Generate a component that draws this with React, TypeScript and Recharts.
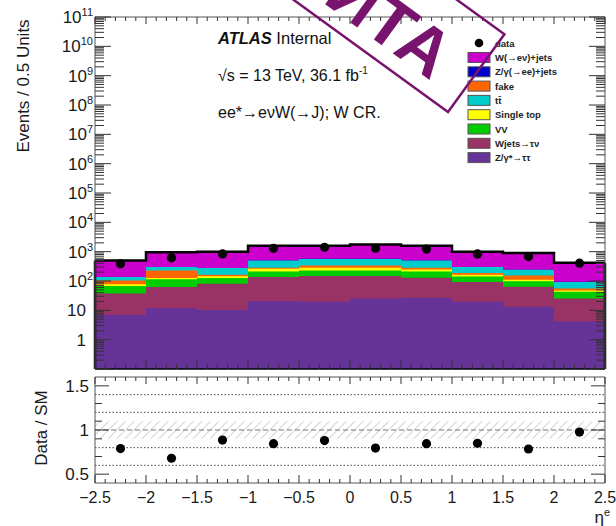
import React from "react";
import {
    ComposedChart,
    Area,
    Scatter,
    XAxis,
    YAxis,
    ReferenceLine,
} from "recharts";

const FONT = "'Liberation Sans', Arial, Helvetica, sans-serif";

// eta bins, 0.5 wide
const binEdges = [-2.5, -2.0, -1.5, -1.0, -0.5, 0.0, 0.5, 1.0, 1.5, 2.0, 2.5];
const binCenters = [-2.25, -1.75, -1.25, -0.75, -0.25, 0.25, 0.75, 1.25, 1.75, 2.25];

// backgrounds, listed bottom of the stack first
const zTauTau = [7.0, 11.7, 10.3, 20.6, 19.7, 25.4, 26.9, 19.7, 13.3, 4.2];
const wTauNu = [30.5, 51, 71, 116, 128, 123, 103, 73, 50, 21];
const diboson = [30.5, 51, 45, 74, 81, 81, 81, 51, 35, 18];
const singleTop = [9, 12, 18, 50, 53, 53, 35, 20, 13, 4];
const fakes = [28, 103, 20, 21, 55, 55, 36, 22, 44, 8];
const ttbar = [32, 69, 111, 215, 230, 230, 215, 112, 87, 38];
const zEE = [0.6, 1.2, 0.9, 1.5, 1.8, 1.7, 1.4, 1.1, 0.9, 0.5];
const wENu = [360, 657, 725, 1093, 1023, 1203, 1093, 702, 661, 322];

const observed = [385, 615, 835, 1300, 1410, 1300, 1230, 835, 680, 405];
const dataOverSM = [0.79, 0.68, 0.886, 0.845, 0.88, 0.795, 0.845, 0.85, 0.785, 0.977];
const smUncertainty = [0.1, 0.1, 0.1, 0.1, 0.1, 0.1, 0.1, 0.1, 0.1, 0.1];

const stack = [zTauTau, wTauNu, diboson, singleTop, fakes, ttbar, zEE, wENu];
const stackColors = ["#663399", "#993366", "#00cc00", "#ffff00", "#ff6600", "#00cccc", "#0000cc", "#cc00cc"];

const legendItems = [
    { label: "W(→eν)+jets", color: "#cc00cc" },
    { label: "Z/γ(→ee)+jets", color: "#0000cc" },
    { label: "fake", color: "#ff6600" },
    { label: "tt̄", color: "#00cccc" },
    { label: "Single top", color: "#ffff00" },
    { label: "VV", color: "#00cc00" },
    { label: "Wjets→τν", color: "#993366" },
    { label: "Z/γ*→ττ", color: "#663399" },
];

// one row per bin edge; the last edge repeats the last bin so the step closes
const histRows = binEdges.map((edge, i) => {
    const b = Math.min(i, binCenters.length - 1);
    const row: any = { x: edge };
    let sum = 0;
    stack.forEach((s, k) => {
        sum += s[b];
        row[`c${k}`] = sum;
    });
    row.band = [1 - smUncertainty[b], 1 + smUncertainty[b]];
    return row;
});
const totals = binCenters.map((_, b) => stack.reduce((a, s) => a + s[b], 0));

const dataPoints = binCenters.map((x, i) => ({ x, v: observed[i] }));
const ratioPoints = binCenters.map((x, i) => ({ x, v: dataOverSM[i] }));

const etaTicks = Array.from({ length: 51 }, (_, i) => (i - 25) / 10);
const logTicks: number[] = [];
for (let e = -1; e <= 10; e++) {
    for (let m = 1; m <= 9; m++) logTicks.push(m * Math.pow(10, e));
}
logTicks.push(1e11);
const ratioTicks = [0.5, 0.7, 0.9, 1.0, 1.1, 1.3, 1.5];

const LOG_DOMAIN: [number, number] = [0.1, 1e11];
const RATIO_DOMAIN: [number, number] = [0.4, 1.6];
const ETA_DOMAIN: [number, number] = [-2.5, 2.5];

const TICK = "#333";
const FRAME = "#555";
const isHalf = (v: number) => Math.abs(v * 2 - Math.round(v * 2)) < 1e-6;
const isDecade = (v: number) => {
    const e = Math.log10(v);
    return Math.abs(e - Math.round(e)) < 1e-6;
};
const fmtEta = (v: number) => String(Math.round(v * 10) / 10).replace("-", "−");

const vTick = (dir: number, majorLen: number, minorLen: number, withLabel: boolean) =>
    (props: any) => {
        const { x, y, payload } = props;
        const major = isHalf(payload.value);
        const len = major ? majorLen : minorLen;
        return (
            <g>
                <line x1={x} y1={y} x2={x} y2={y + dir * len} stroke={TICK} strokeWidth={1} />
                {withLabel && major && (
                    <text x={x} y={y + 20} textAnchor="middle" fontFamily={FONT} fontSize={16} fill="#1a1a1a">
                        {fmtEta(payload.value)}
                    </text>
                )}
            </g>
        );
    };

const logTick = (dir: number, withLabel: boolean) => (props: any) => {
    const { x, y, payload } = props;
    const v = payload.value;
    const major = isDecade(v);
    const len = major ? 16 : 9;
    const e = Math.round(Math.log10(v));
    let label: React.ReactNode = null;
    if (withLabel && major && e >= 0) {
        label =
            e <= 1 ? (
                <text x={x - 9} y={y + 6} textAnchor="end" fontFamily={FONT} fontSize={17} fill="#1a1a1a">
                    {e === 0 ? "1" : "10"}
                </text>
            ) : (
                <text x={x - 2} y={y + 6} textAnchor="end" fontFamily={FONT} fontSize={17} fill="#1a1a1a">
                    10
                    <tspan dy={-7} fontSize={11}>{e}</tspan>
                </text>
            );
    }
    return (
        <g>
            <line x1={x} y1={y} x2={x + dir * len} y2={y} stroke={TICK} strokeWidth={1} />
            {label}
        </g>
    );
};

const ratioTick = (dir: number, withLabel: boolean) => (props: any) => {
    const { x, y, payload } = props;
    const v = payload.value;
    const major = isHalf(v);
    const len = major ? 14 : 7;
    return (
        <g>
            <line x1={x} y1={y} x2={x + dir * len} y2={y} stroke={TICK} strokeWidth={1} />
            {withLabel && major && (
                <text x={x - 6} y={y + 6} textAnchor="end" fontFamily={FONT} fontSize={17} fill="#1a1a1a">
                    {String(v)}
                </text>
            )}
        </g>
    );
};

const Dot = (p: any) => <circle cx={p.cx} cy={p.cy} r={4.6} fill="#000" />;
const NoDot = () => <g />;

const layer = (top: number): React.CSSProperties => ({ position: "absolute", left: 0, top });

// ---- upper panel: stacked histogram + data ----
const MAIN_W = 616;
const MAIN_H = 378;

const MainHist = () => (
    <ComposedChart width={MAIN_W} height={MAIN_H} data={histRows} margin={{ top: 17, right: 11, bottom: 9, left: 95 }}>
        <XAxis dataKey="x" type="number" domain={ETA_DOMAIN} allowDataOverflow hide />
        <YAxis type="number" scale="log" domain={LOG_DOMAIN} allowDataOverflow hide />
        {[7, 6, 5, 4, 3, 2, 1, 0].map((k) => (
            <Area
                key={k}
                type="stepAfter"
                dataKey={`c${k}`}
                fill={stackColors[k]}
                fillOpacity={1}
                stroke={k === 7 ? "#000" : "none"}
                strokeWidth={k === 7 ? 2.5 : 0}
                isAnimationActive={false}
                dot={false}
                activeDot={false}
            />
        ))}
        <ReferenceLine segment={[{ x: -2.5, y: 0.1 }, { x: -2.5, y: totals[0] }]} stroke="#000" strokeWidth={2.5} />
        <ReferenceLine segment={[{ x: 2.5, y: 0.1 }, { x: 2.5, y: totals[9] }]} stroke="#000" strokeWidth={2.5} />
        <Scatter data={dataPoints} dataKey="v" shape={Dot} isAnimationActive={false} />
    </ComposedChart>
);

// frame and inward ticks, drawn over the histogram
const MainAxes = () => (
    <ComposedChart width={MAIN_W} height={MAIN_H} data={histRows} margin={{ top: 16, right: 10, bottom: 8, left: 8 }}>
        <Scatter data={dataPoints} dataKey="v" shape={NoDot} isAnimationActive={false} />
        <Scatter data={dataPoints} dataKey="v" xAxisId="top" yAxisId="right" shape={NoDot} isAnimationActive={false} />
        <XAxis
            dataKey="x" type="number" domain={ETA_DOMAIN} allowDataOverflow ticks={etaTicks} interval={0}
            height={1} tickSize={0} tickMargin={0} axisLine={{ stroke: "#000", strokeWidth: 1.5 }} tickLine={false}
            tick={vTick(-1, 9, 4.5, false)}
        />
        <XAxis
            xAxisId="top" orientation="top" dataKey="x" type="number" domain={ETA_DOMAIN} allowDataOverflow
            ticks={etaTicks} interval={0} height={1} tickSize={0} tickMargin={0} axisLine={{ stroke: FRAME }}
            tickLine={false} tick={vTick(1, 7, 4, false)}
        />
        <YAxis
            type="number" scale="log" domain={LOG_DOMAIN} allowDataOverflow ticks={logTicks} interval={0}
            width={87} tickSize={0} tickMargin={0} axisLine={{ stroke: FRAME }} tickLine={false}
            tick={logTick(1, true)}
        />
        <YAxis
            yAxisId="right" orientation="right" type="number" scale="log" domain={LOG_DOMAIN} allowDataOverflow
            ticks={logTicks} interval={0} width={1} tickSize={0} tickMargin={0} axisLine={{ stroke: FRAME }}
            tickLine={false} tick={logTick(-1, false)}
        />
    </ComposedChart>
);

// ---- lower panel: data / SM ----
const RATIO_W = 616;
const RATIO_H = 158;

const RatioPlot = () => (
    <ComposedChart width={RATIO_W} height={RATIO_H} data={histRows} margin={{ top: 9, right: 11, bottom: 43, left: 95 }}>
        <defs>
            <pattern id="hatch" width="6" height="6" patternUnits="userSpaceOnUse" patternTransform="rotate(45)">
                <line x1="0" y1="0" x2="0" y2="6" stroke="#c8c8c8" strokeWidth={1.6} />
            </pattern>
        </defs>
        <XAxis dataKey="x" type="number" domain={ETA_DOMAIN} allowDataOverflow hide />
        <YAxis type="number" domain={RATIO_DOMAIN} allowDataOverflow hide />
        <Area
            type="stepAfter"
            dataKey="band"
            fill="url(#hatch)"
            fillOpacity={1}
            stroke="none"
            isAnimationActive={false}
            dot={false}
            activeDot={false}
        />
        {[0.6, 0.8, 1.2, 1.4].map((v) => (
            <ReferenceLine key={v} y={v} stroke="#444" strokeWidth={1} strokeDasharray="1.5 2" />
        ))}
        <ReferenceLine y={1} stroke="#777" strokeWidth={1} strokeDasharray="5 3" />
        <Scatter data={ratioPoints} dataKey="v" shape={Dot} isAnimationActive={false} />
    </ComposedChart>
);

const RatioAxes = () => (
    <ComposedChart width={RATIO_W} height={RATIO_H} data={histRows} margin={{ top: 8, right: 10, bottom: 8, left: 8 }}>
        <Scatter data={ratioPoints} dataKey="v" shape={NoDot} isAnimationActive={false} />
        <Scatter data={ratioPoints} dataKey="v" xAxisId="top" yAxisId="right" shape={NoDot} isAnimationActive={false} />
        <XAxis
            dataKey="x" type="number" domain={ETA_DOMAIN} allowDataOverflow ticks={etaTicks} interval={0}
            height={35} tickSize={0} tickMargin={0} axisLine={{ stroke: FRAME }} tickLine={false}
            tick={vTick(-1, 8, 4, true)}
        />
        <XAxis
            xAxisId="top" orientation="top" dataKey="x" type="number" domain={ETA_DOMAIN} allowDataOverflow
            ticks={etaTicks} interval={0} height={1} tickSize={0} tickMargin={0} axisLine={{ stroke: FRAME }}
            tickLine={false} tick={vTick(1, 7, 4, false)}
        />
        <YAxis
            type="number" domain={RATIO_DOMAIN} allowDataOverflow ticks={ratioTicks} interval={0}
            width={87} tickSize={0} tickMargin={0} axisLine={{ stroke: FRAME }} tickLine={false}
            tick={ratioTick(1, true)}
        />
        <YAxis
            yAxisId="right" orientation="right" type="number" domain={RATIO_DOMAIN} allowDataOverflow
            ticks={ratioTicks} interval={0} width={1} tickSize={0} tickMargin={0} axisLine={{ stroke: FRAME }}
            tickLine={false} tick={ratioTick(-1, false)}
        />
    </ComposedChart>
);

const STAMP = "#78146e";

// titles, legend, labels and the stamp
const Annotations = () => (
    <svg width={616} height={526} style={{ position: "absolute", left: 0, top: 0, pointerEvents: "none" }} fontFamily={FONT}>
        <text transform="translate(29,86) rotate(-90)" textAnchor="middle" fontSize={17} fill="#1a1a1a">
            Events / 0.5 Units
        </text>
        <text transform="translate(47,428) rotate(-90)" textAnchor="middle" fontSize={17} fill="#1a1a1a">
            Data / SM
        </text>

        <text x={218} y={44} fontSize={16.5} fill="#111">
            <tspan fontWeight="bold" fontStyle="italic">ATLAS</tspan>
            <tspan> Internal</tspan>
        </text>
        <text x={218} y={81} fontSize={16} fill="#111">
            √s = 13 TeV, 36.1 fb<tspan dy={-7} fontSize={10}>-1</tspan>
        </text>
        <text x={218} y={118} fontSize={16} fill="#111">
            ee*→eνW(→J); W CR.
        </text>

        <circle cx={479} cy={43} r={4.3} fill="#000" />
        <text x={495} y={46.5} fontSize={9.5} fontWeight="bold" fill="#222">data</text>
        {legendItems.map((it, i) => {
            const cy = 57.5 + i * 14.3;
            return (
                <g key={it.label}>
                    <rect x={468} y={cy - 5} width={22} height={10} fill={it.color} stroke="#555" strokeWidth={1} />
                    <text x={495} y={cy + 3.5} fontSize={9.5} fontWeight="bold" fill="#222">{it.label}</text>
                </g>
            );
        })}

        <text x={610} y={523} textAnchor="end" fontSize={17} fill="#1a1a1a">
            η<tspan dy={-7} fontSize={11}>e</tspan>
        </text>

        <g transform="translate(448,112) rotate(36)">
            <rect x={-420} y={-96} width={420} height={96} fill="none" stroke={STAMP} strokeWidth={2.5} />
            <text x={-32} y={-15} textAnchor="end" fontSize={68} fontWeight="bold" fill={STAMP}>
                ИТА
            </text>
        </g>
    </svg>
);

const App: React.FC = () => (
    <>
        <style>{"html, body { margin: 0; padding: 0; overflow: hidden; }"}</style>
        <div style={{ position: "relative", width: 616, height: 526, overflow: "hidden" }}>
            <div style={layer(0)}>
                <MainHist />
            </div>
            <div style={layer(0)}>
                <MainAxes />
            </div>
            <div style={layer(368)}>
                <RatioPlot />
            </div>
            <div style={layer(368)}>
                <RatioAxes />
            </div>
            <Annotations />
        </div>
    </>
);

export default App;
